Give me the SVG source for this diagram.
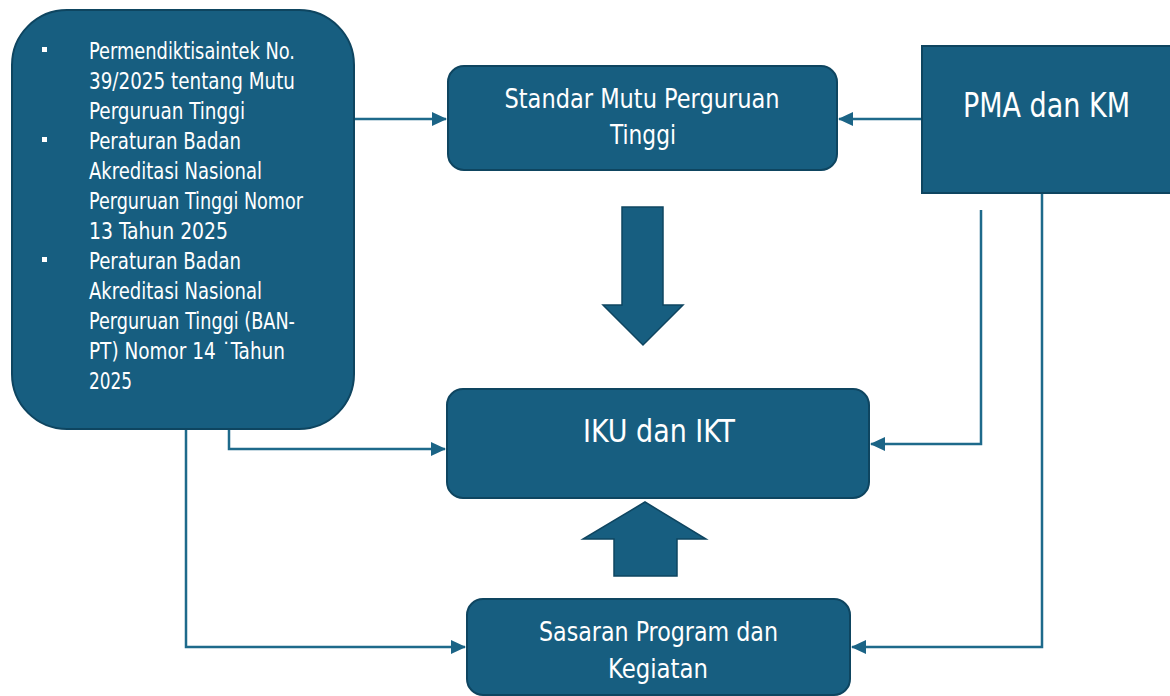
<svg xmlns="http://www.w3.org/2000/svg" width="1170" height="696" viewBox="0 0 1170 696">
<defs>
<style>
.box{fill:#175E80;stroke:#0E4560;stroke-width:2}
.blk{fill:#175E80;stroke:#0E4560;stroke-width:1.5}
.t{fill:#ffffff;font-family:"DejaVu Sans Condensed","DejaVu Sans","Liberation Sans",sans-serif;font-stretch:condensed}
.lt{font-size:22.5px}
.m{text-anchor:middle}
.c{fill:none;stroke:#1E6A8B;stroke-width:2.5}
</style>
<marker id="ah" markerUnits="userSpaceOnUse" markerWidth="15" markerHeight="14" refX="14" refY="7" orient="auto">
<path d="M0,0 L15,7 L0,14 z" fill="#1B6486"/>
</marker>
</defs>
<rect width="1170" height="696" fill="#ffffff"/>
<g id="connectors">
<path class="c" d="M354,119 H446" marker-end="url(#ah)"/>
<path class="c" d="M922,119 H839" marker-end="url(#ah)"/>
<path class="c" d="M229,429 V449 H445" marker-end="url(#ah)"/>
<path class="c" d="M186,429 V647 H465" marker-end="url(#ah)"/>
<path class="c" d="M981,210 V444 H871" marker-end="url(#ah)"/>
<path class="c" d="M1042,193 V647 H852" marker-end="url(#ah)"/>
</g>
<g id="arrow-down">
<polygon class="blk" points="622,207 663,207 663,305 683,305 643,345 603,305 622,305"/>
</g>
<g id="arrow-up">
<polygon class="blk" points="645,502 706,539 677,539 677,576 614,576 614,539 583,539"/>
</g>
<g id="regulations">
<rect class="box" x="12" y="10" width="342" height="419" rx="55" ry="55"/>
<g fill="#ffffff">
<rect x="42" y="47" width="5" height="5"/>
<rect x="42" y="137" width="5" height="5"/>
<rect x="42" y="257" width="5" height="5"/>
</g>
<g class="t lt">
<text x="89" y="59" textLength="206" lengthAdjust="spacingAndGlyphs">Permendiktisaintek No.</text>
<text x="89" y="89" textLength="206" lengthAdjust="spacingAndGlyphs">39/2025 tentang Mutu</text>
<text x="89" y="119" textLength="156" lengthAdjust="spacingAndGlyphs">Perguruan Tinggi</text>
<text x="89" y="149" textLength="152" lengthAdjust="spacingAndGlyphs">Peraturan Badan</text>
<text x="89" y="179" textLength="173" lengthAdjust="spacingAndGlyphs">Akreditasi Nasional</text>
<text x="89" y="209" textLength="214" lengthAdjust="spacingAndGlyphs">Perguruan Tinggi Nomor</text>
<text x="89" y="239" textLength="139" lengthAdjust="spacingAndGlyphs">13 Tahun 2025</text>
<text x="89" y="269" textLength="152" lengthAdjust="spacingAndGlyphs">Peraturan Badan</text>
<text x="89" y="299" textLength="173" lengthAdjust="spacingAndGlyphs">Akreditasi Nasional</text>
<text x="89" y="329" textLength="206" lengthAdjust="spacingAndGlyphs">Perguruan Tinggi (BAN-</text>
<text x="89" y="359" textLength="196" lengthAdjust="spacingAndGlyphs">PT) Nomor 14 ˙Tahun</text>
<text x="89" y="389" textLength="43" lengthAdjust="spacingAndGlyphs">2025</text>
</g>
</g>
<g id="standar">
<rect class="box" x="448" y="66" width="389" height="104" rx="16" ry="16"/>
<text class="t m" x="642" y="108" font-size="27" textLength="275" lengthAdjust="spacingAndGlyphs">Standar Mutu Perguruan</text>
<text class="t m" x="643" y="144" font-size="27" textLength="66" lengthAdjust="spacingAndGlyphs">Tinggi</text>
</g>
<g id="pma">
<rect class="box" x="922" y="46" width="260" height="147"/>
<text class="t m" x="1046.5" y="117" font-size="33" textLength="167" lengthAdjust="spacingAndGlyphs">PMA dan KM</text>
</g>
<g id="iku">
<rect class="box" x="447" y="389" width="422" height="109" rx="16" ry="16"/>
<text class="t m" x="659" y="442" font-size="31.5" textLength="152" lengthAdjust="spacingAndGlyphs">IKU dan IKT</text>
</g>
<g id="sasaran">
<rect class="box" x="467" y="599" width="383" height="96" rx="16" ry="16"/>
<text class="t m" x="658.5" y="641" font-size="26" textLength="239" lengthAdjust="spacingAndGlyphs">Sasaran Program dan</text>
<text class="t m" x="658" y="678" font-size="26" textLength="100" lengthAdjust="spacingAndGlyphs">Kegiatan</text>
</g>
</svg>
